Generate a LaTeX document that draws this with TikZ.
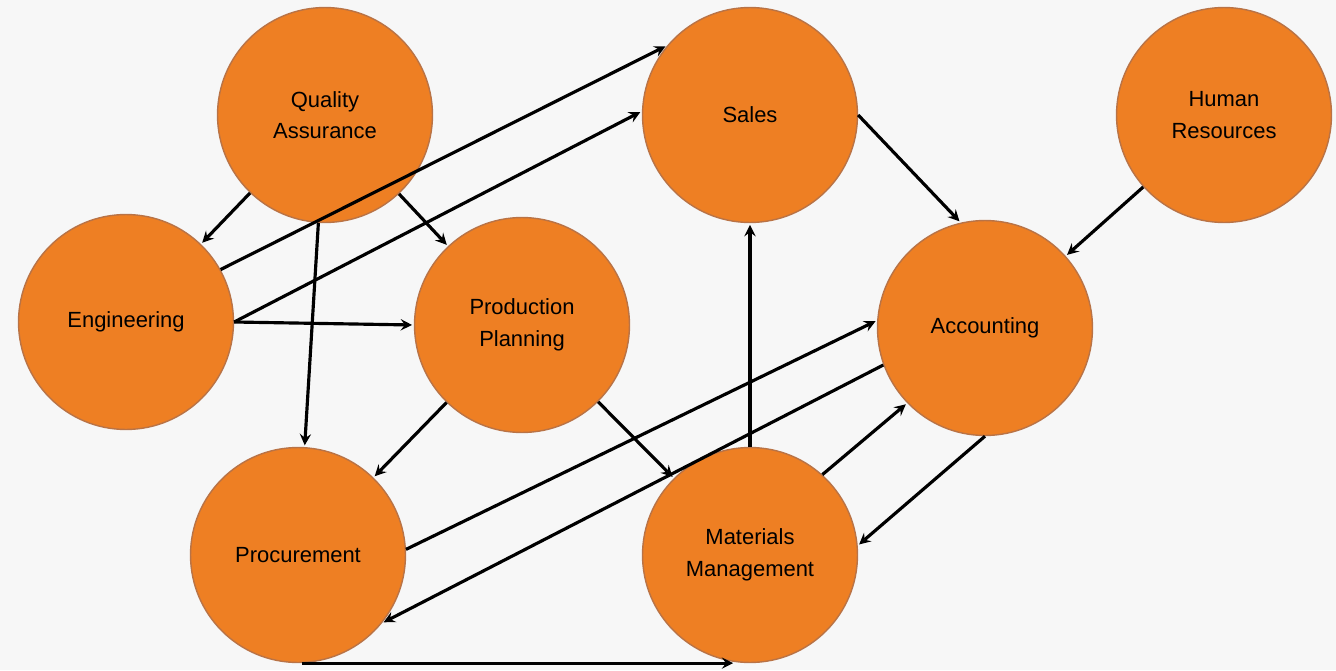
\documentclass[tikz,border=0pt]{standalone}
\usepackage{fontspec}
\setmainfont{Liberation Sans}
\usepackage{tikz}
\usetikzlibrary{positioning, arrows}
\definecolor{dept}{RGB}{238,127,35}
\definecolor{deptrim}{RGB}{185,115,70}
\definecolor{paper}{RGB}{247,247,247}

\begin{document}
\begin{tikzpicture}[x=0.02cm, y=-0.02cm,
    dept/.style={circle, fill=dept, draw=deptrim, line width=0.8pt, minimum size=4.3cm, inner sep=0pt,
        align=center, font=\fontsize{12.5}{18}\selectfont},
    flow/.style={-stealth, line width=1.8pt, shorten >=1pt}]
    \fill[paper] (0,0) rectangle (1336,670);
    \useasboundingbox (0,0) rectangle (1336,670);
    \node[dept] (qa)    at (325,115)  {Quality\\Assurance};
    \node[dept] (sales) at (750,115)  {Sales};
    \node[dept] (hr)    at (1224,115) {Human\\Resources};
    \node[dept] (eng)   at (126,322)  {Engineering};
    \node[dept] (pp)    at (522,325)  {Production\\Planning};
    \node[dept] (acc)   at (985,328)  {Accounting};
    \node[dept] (proc)  at (298,555)  {Procurement};
    \node[dept] (mm)    at (750,555)  {Materials\\Management};
    \path[flow]
        (qa) edge (eng)
        (qa) edge (proc)
        (qa) edge (pp)
        (eng.29) edge (sales.140)
        (eng.east) edge (sales.178)
        (eng.east) edge (pp.west)
        (pp) edge (proc)
        (pp) edge (mm)
        (proc.3) edge (acc.176)
        (acc.200) edge (proc.321)
        (mm) edge (sales)
        (mm.48) edge (acc.224)
        (acc.south) edge (mm.5)
        (sales.east) edge (acc.103)
        (hr) edge (acc);
    \draw[flow] (proc.272) -- (proc.272 -| mm.262);
\end{tikzpicture}
\end{document}
